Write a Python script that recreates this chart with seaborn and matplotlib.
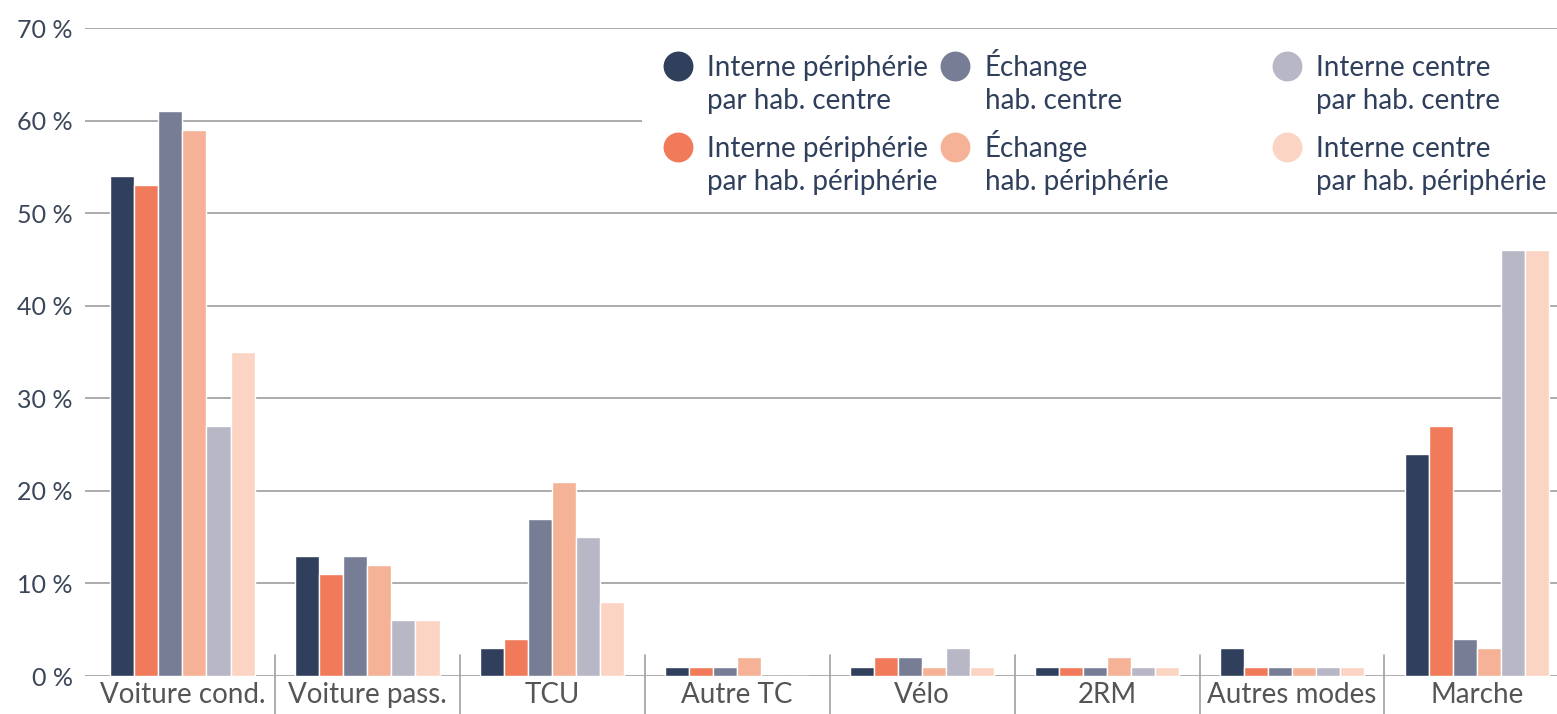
import matplotlib
matplotlib.use("Agg")
import matplotlib.pyplot as plt
from matplotlib.lines import Line2D
from matplotlib.patches import Rectangle
import matplotlib.transforms as mtransforms
import numpy as np
import pandas as pd
import seaborn as sns

modes = ["Voiture cond.", "Voiture pass.", "TCU", "Autre TC", "Vélo", "2RM",
         "Autres modes", "Marche"]

series_names = [
    "Interne périphérie\npar hab. centre",
    "Interne périphérie\npar hab. périphérie",
    "Échange\nhab. centre",
    "Échange\nhab. périphérie",
    "Interne centre\npar hab. centre",
    "Interne centre\npar hab. périphérie",
]

int_peri_hab_centre = [54, 13, 3, 1, 1, 1, 3, 24]
int_peri_hab_peri = [53, 11, 4, 1, 2, 1, 1, 27]
echange_hab_centre = [61, 13, 17, 1, 2, 1, 1, 4]
echange_hab_peri = [59, 12, 21, 2, 1, 2, 1, 3]
int_centre_hab_centre = [27, 6, 15, 0, 3, 1, 1, 46]
int_centre_hab_peri = [35, 6, 8, 0, 1, 1, 1, 46]

y_ticks = [0, 10, 20, 30, 40, 50, 60, 70]

colors = ["#2f3f5c", "#f07a5a", "#777d94", "#f5b296", "#b7b7c6", "#fbd4c3"]

all_series = [int_peri_hab_centre, int_peri_hab_peri, echange_hab_centre,
              echange_hab_peri, int_centre_hab_centre, int_centre_hab_peri]

df = pd.DataFrame({
    "mode": np.tile(modes, len(series_names)),
    "serie": np.repeat(series_names, len(modes)),
    "part": np.concatenate(all_series),
})

sns.set_theme(style="white")
plt.rcParams["font.family"] = ["Lato", "DejaVu Sans"]

W, H = 1557, 714
fig = plt.figure(figsize=(W / 100, H / 100), dpi=100)
ax = fig.add_axes([85 / W, 38 / H, 1472 / W, 648 / H])

sns.barplot(data=df, x="mode", y="part", hue="serie", order=modes,
            hue_order=series_names, palette=colors, saturation=1,
            width=0.78, edgecolor="white", linewidth=1.0, ax=ax,
            legend=False, zorder=3)

ax.set_xlim(-0.527, 7.433)
ax.set_ylim(0, 70)
ax.set_yticks(y_ticks)
ax.set_yticklabels([f"{v} %" for v in y_ticks], color="#3b4759",
                   fontsize=18)
ax.yaxis.grid(True, color="#ababab", linewidth=1.4, zorder=0)
ax.set_axisbelow(True)
ax.tick_params(axis="y", length=0, pad=9)
ax.tick_params(axis="x", length=0, pad=4, labelsize=20, labelcolor="#555555")
for s in ax.spines.values():
    s.set_visible(False)
ax.set_xlabel("")
ax.set_ylabel("")

# separators between mode groups
trans = mtransforms.blended_transform_factory(ax.transData, ax.transAxes)
for i in range(len(modes) - 1):
    ax.plot([i + 0.5, i + 0.5], [0.033, -0.06], transform=trans,
            color="#a0a0a0", linewidth=1.2, clip_on=False, zorder=1)

# legend block: white panel, round swatches, two-line labels
def fx(px):
    return px / W


def fy(py):
    return 1 - py / H


panel = Rectangle((fx(642), fy(205)), fx(1557) - fx(642), fy(40) - fy(205),
                  transform=fig.transFigure, facecolor="white",
                  edgecolor="none", zorder=4, clip_on=False)
ax.add_artist(panel)

col_marker_x = [678, 955, 1287]
col_text_x = [707, 985, 1316]
row_y = [66, 147]
for k, (name, c) in enumerate(zip(series_names, colors)):
    col, row = divmod(k, 2)
    y0 = row_y[row]
    ax.add_artist(Line2D([fx(col_marker_x[col])], [fy(y0)], marker="o",
                         linestyle="", markersize=20.5, markerfacecolor=c,
                         markeredgecolor=c, transform=fig.transFigure,
                         clip_on=False, zorder=5))
    for j, line in enumerate(name.split("\n")):
        fig.text(fx(col_text_x[col]), fy(y0 + 10 + 33 * j), line,
                 fontsize=20, color="#2f3f5c", ha="left", va="baseline",
                 zorder=6)

fig.savefig("out.png", dpi=100)
